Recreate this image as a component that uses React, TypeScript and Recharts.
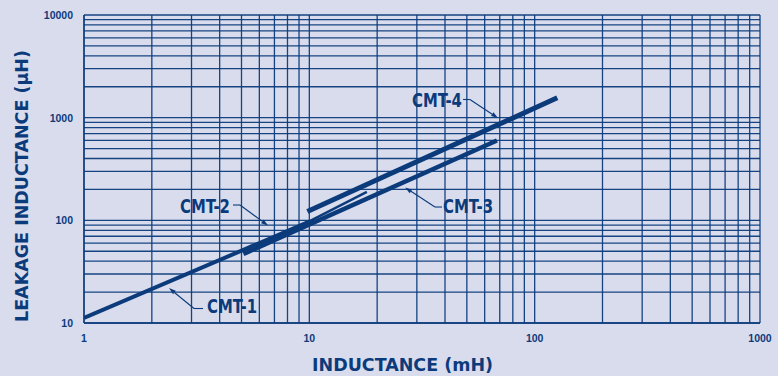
import React from 'react';
import { LineChart, Line, XAxis, YAxis, CartesianGrid, ReferenceLine, ReferenceDot } from 'recharts';

const INK = '#0c3b7c';
const BG = '#d9dcec';

// axis ticks (log grid)
const xTicks = [1, 2, 3, 4, 5, 6, 7, 8, 9, 10, 20, 30, 40, 50, 60, 70, 80, 90, 100, 200, 300, 400, 500, 600, 700, 800, 900, 1000];
const yTicks = [10, 20, 30, 40, 50, 60, 70, 80, 90, 100, 200, 300, 400, 500, 600, 700, 800, 900, 1000, 2000, 3000, 4000, 5000, 6000, 7000, 8000, 9000, 10000];
const xLabels = [1, 10, 100, 1000];
const yLabels = [10, 100, 1000, 10000];

// series (inductance mH -> leakage inductance uH)
const cmt1 = [{ x: 1, y: 11.2 }, { x: 10, y: 97 }];
const cmt2 = [{ x: 5.3, y: 48 }, { x: 18, y: 189 }];
const cmt3 = [{ x: 5.1, y: 47 }, { x: 68, y: 600 }];
const cmt4 = [{ x: 9.8, y: 122 }, { x: 126, y: 1560 }];

// annotation labels (data coordinates)
const labelNames = ['CMT-1', 'CMT-2', 'CMT-3', 'CMT-4'];
const labelX = [3.515, 2.667, 39.2, 28.55];
const labelY = [12.5, 117.9, 117.9, 1270];
// leader lines: [x1, y1, x2, y2, arrow]
const leaders: [number, number, number, number, boolean][] = [
  [3.375, 13.84, 3.077, 13.84, false],
  [3.077, 13.84, 2.384, 21.9, true],
  [4.585, 141, 4.924, 141, false],
  [4.924, 141, 6.555, 89.0, true],
  [38.8, 134.8, 36.1, 134.8, false],
  [36.1, 134.8, 26.6, 208.8, true],
  [48.1, 1503, 51.6, 1503, false],
  [51.6, 1503, 68.8, 992, true],
];

const LeaderShape = (arrow: boolean) => (p: any) => {
  const { x1, y1, x2, y2 } = p;
  if ([x1, y1, x2, y2].some((v) => typeof v !== 'number' || isNaN(v))) return <g />;
  const dx = x2 - x1;
  const dy = y2 - y1;
  const len = Math.sqrt(dx * dx + dy * dy) || 1;
  const ux = dx / len;
  const uy = dy / len;
  const al = 7;
  const aw = 2.2;
  const bx = x2 - ux * al;
  const by = y2 - uy * al;
  return (
    <g>
      <line x1={x1} y1={y1} x2={arrow ? bx : x2} y2={arrow ? by : y2} stroke={INK} strokeWidth={1.1} />
      {arrow && (
        <polygon
          points={`${x2},${y2} ${bx - uy * aw},${by + ux * aw} ${bx + uy * aw},${by - ux * aw}`}
          fill={INK}
        />
      )}
    </g>
  );
};

const XTick = (p: any) => {
  const v = p.payload?.value;
  if (!xLabels.includes(v)) return <g />;
  return (
    <text x={p.x} y={p.y + 19} textAnchor="middle" fill={INK} fontFamily="'Liberation Sans', Arial, sans-serif" fontWeight="bold" fontSize={10.5}>
      {v}
    </text>
  );
};

const YTick = (p: any) => {
  const v = p.payload?.value;
  if (!yLabels.includes(v)) return <g />;
  return (
    <text x={p.x - 11} y={p.y + 4} textAnchor="end" fill={INK} fontFamily="'Liberation Sans', Arial, sans-serif" fontWeight="bold" fontSize={10.5}>
      {v}
    </text>
  );
};

const XTitle = (p: any) => {
  const vb = p.viewBox || { x: 84, y: 323 };
  return (
    <text x={vb.x + 228} y={vb.y + 48} fill={INK} fontFamily="'DejaVu Sans', sans-serif" fontWeight="bold" fontSize={17} textLength={181} lengthAdjust="spacingAndGlyphs">
      INDUCTANCE (mH)
    </text>
  );
};

const YTitle = () => {
  const cx = 28;
  const cy = 186;
  return (
    <text x={cx} y={cy} transform={`rotate(-90 ${cx} ${cy})`} textAnchor="middle" fill={INK} fontFamily="'DejaVu Sans', sans-serif" fontWeight="bold" fontSize={17} textLength={272} lengthAdjust="spacingAndGlyphs">
      LEAKAGE INDUCTANCE (μH)
    </text>
  );
};

const LabelShape = (name: string) => (p: any) => {
  if (typeof p.cx !== 'number' || isNaN(p.cx)) return <g />;
  return (
    <text x={p.cx} y={p.cy} fill={INK} fontFamily="'Liberation Sans Narrow', 'DejaVu Sans Condensed', sans-serif" fontWeight="bold" fontSize={20} textLength={50} lengthAdjust="spacingAndGlyphs">
      {name}
    </text>
  );
};

export default function App() {
  return (
    <div style={{ position: 'absolute', left: 0, top: 0, width: 778, height: 376, background: BG }}>
      <LineChart width={778} height={376} margin={{ top: 15, right: 18, left: 0, bottom: 0 }}>
        <CartesianGrid stroke={INK} strokeWidth={1.3} strokeOpacity={0.95} />
        <XAxis
          dataKey="x"
          type="number"
          scale="log"
          domain={[1, 1000]}
          ticks={xTicks}
          interval={0}
          tickSize={0}
          tickMargin={0}
          tickLine={false}
          axisLine={{ stroke: INK, strokeWidth: 1.3 }}
          height={53}
          tick={XTick}
          allowDataOverflow
          label={XTitle}
        />
        <YAxis
          dataKey="y"
          type="number"
          scale="log"
          domain={[10, 10000]}
          ticks={yTicks}
          interval={0}
          tickSize={0}
          tickMargin={0}
          tickLine={false}
          axisLine={{ stroke: INK, strokeWidth: 1.3 }}
          width={84}
          tick={YTick}
          allowDataOverflow
          label={YTitle}
        />
        <Line data={cmt1} dataKey="y" stroke={INK} strokeWidth={4} dot={false} isAnimationActive={false} />
        <Line data={cmt2} dataKey="y" stroke={INK} strokeWidth={2.5} dot={false} isAnimationActive={false} />
        <Line data={cmt3} dataKey="y" stroke={INK} strokeWidth={4.5} dot={false} isAnimationActive={false} />
        <Line data={cmt4} dataKey="y" stroke={INK} strokeWidth={5} dot={false} isAnimationActive={false} />
        {leaders.map((l, i) => (
          <ReferenceLine
            key={'ld' + i}
            segment={[{ x: l[0], y: l[1] }, { x: l[2], y: l[3] }]}
            stroke={INK}
            shape={LeaderShape(l[4])}
          />
        ))}
        {labelNames.map((n, i) => (
          <ReferenceDot key={'lb' + i} x={labelX[i]} y={labelY[i]} r={0} shape={LabelShape(n)} />
        ))}
      </LineChart>
    </div>
  );
}
